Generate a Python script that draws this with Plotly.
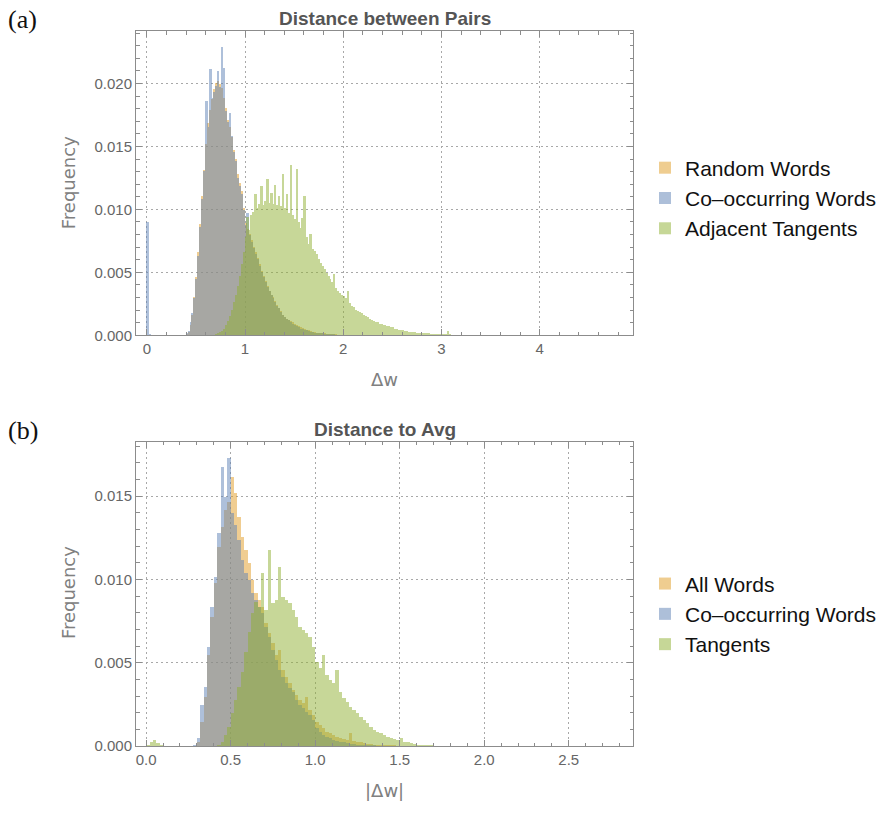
import plotly.graph_objects as go

# ---------------- Panel (a): Distance between Pairs ----------------
BIN_W_A = 0.02
RANDOM_START_A = 0.40
random_words_a = [
    0.00005, 0.0002, 0.0008, 0.0016, 0.0030, 0.0046, 0.0066, 0.0088, 0.0110, 0.0131,
    0.0152, 0.0168, 0.0179, 0.0187, 0.0195, 0.0200, 0.0202, 0.0199, 0.0196, 0.0188,
    0.0180, 0.0171, 0.0165, 0.0157, 0.0147, 0.0140, 0.0128, 0.0121, 0.0114, 0.0101,
    0.0089, 0.0084, 0.0080, 0.0075, 0.0070, 0.0066, 0.0061, 0.0056, 0.0051, 0.0047,
    0.0043, 0.0039, 0.0035, 0.0032, 0.0030, 0.0027, 0.0024, 0.0021, 0.0019, 0.0016,
    0.0014, 0.0013, 0.0012, 0.0011, 0.0010, 0.0009, 0.0008, 0.0007, 0.0006, 0.00055,
    0.0005, 0.0004, 0.00035, 0.0003, 0.00025, 0.0002, 0.00018, 0.00015, 0.00012, 0.0001,
    0.00008, 0.00006, 0.00005, 0.00004, 0.00003, 0.00002, 0.00001,
]

COOC_START_A = 0.00
cooccurring_a = [
    0.0090, 0.00005, 0, 0, 0, 0, 0, 0, 0, 0,
    0, 0, 0, 0, 0, 0, 0, 0, 0, 0,
    0.0001, 0.0003, 0.0010, 0.0017, 0.0029, 0.0044, 0.0063, 0.0086, 0.0108, 0.0130,
    0.0186, 0.0165, 0.0211, 0.0188, 0.0193, 0.0198, 0.0210, 0.0197, 0.0229, 0.0212,
    0.0178, 0.0169, 0.0176, 0.0158, 0.0145, 0.0138, 0.0125, 0.0118, 0.0112, 0.0099,
    0.0087, 0.0097, 0.0079, 0.0074, 0.0069, 0.0064, 0.0060, 0.0055, 0.0050, 0.0046,
    0.0042, 0.0038, 0.0035, 0.0032, 0.0029, 0.0026, 0.0023, 0.0021, 0.0018, 0.0016,
    0.0014, 0.0013, 0.0012, 0.0010, 0.0009, 0.0008, 0.0007, 0.0006, 0.0005, 0.0005,
    0.0004, 0.00035, 0.0003, 0.00025, 0.0002, 0.00018, 0.00015, 0.00012, 0.0001, 0.00008,
    0.00006, 0.00005, 0.00004, 0.00003, 0.00002, 0.00001,
]

TANG_START_A = 0.70
adjacent_tangents_a = [
    0.00005, 0.0001, 0.0002, 0.0003, 0.0005, 0.0008, 0.0011, 0.0015, 0.0020, 0.0026,
    0.0032, 0.0039, 0.0047, 0.0056, 0.0066, 0.0078, 0.0094, 0.0083, 0.0095, 0.0098,
    0.0112, 0.0101, 0.0104, 0.0118, 0.0103, 0.0106, 0.0124, 0.0105, 0.0113, 0.0104,
    0.0119, 0.0103, 0.0110, 0.0102, 0.0128, 0.0101, 0.0112, 0.0097, 0.0135, 0.0095,
    0.0092, 0.0132, 0.0090, 0.0085, 0.0093, 0.0110, 0.0078, 0.0072, 0.0080, 0.0068,
    0.0067, 0.0064, 0.0060, 0.0057, 0.0055, 0.0052, 0.0049, 0.0047, 0.0044, 0.0042,
    0.0048, 0.0037, 0.0035, 0.0033, 0.0032, 0.0031, 0.0029, 0.0035, 0.0025, 0.0023,
    0.0022, 0.0020, 0.0019, 0.0018, 0.0017, 0.0016, 0.0015, 0.0014, 0.0013, 0.0012,
    0.0011, 0.0010, 0.0010, 0.0009, 0.0009, 0.0008, 0.0008, 0.0007, 0.0007, 0.0006,
    0.0006, 0.0005, 0.0005, 0.0004, 0.0004, 0.00035, 0.0003, 0.0003, 0.00025, 0.00025,
    0.0002, 0.0002, 0.00015, 0.00015, 0.00015, 0.0001, 0.0001, 0.0001, 0.00008, 0.00006,
    0.00005, 0.00004, 0.00003, 0.00003, 0.00002, 0.00002, 0.00001, 0.00001, 0.0003, 0.00001,
]

# ---------------- Panel (b): Distance to Avg ----------------
BIN_W_B = 0.02
ALL_START_B = 0.28
all_words_b = [
    0.00003, 0.0003, 0.0015, 0.0030, 0.0055, 0.0078, 0.0098, 0.0120, 0.0132, 0.0142,
    0.0147, 0.0162, 0.0152, 0.0138, 0.0126, 0.0118, 0.0110, 0.0100, 0.0092, 0.0088,
    0.0084, 0.0074, 0.0068, 0.0062, 0.0055, 0.0058, 0.0046, 0.0042, 0.0038, 0.0034,
    0.0031, 0.0028, 0.0026, 0.0030, 0.0022, 0.0019, 0.0015, 0.0013, 0.0011, 0.0009,
    0.0008, 0.0007, 0.0006, 0.0005, 0.00045, 0.0004, 0.0008, 0.00035, 0.0003, 0.00025,
    0.0002, 0.00018, 0.00015, 0.00012, 0.0001, 0.00009, 0.00008, 0.00006, 0.00005, 0.00004,
    0.00003, 0.00003, 0.00002, 0.00002, 0.00001,
]

COOC_START_B = 0.28
cooccurring_b = [
    0.00005, 0.0005, 0.0025, 0.0036, 0.0060, 0.0084, 0.0102, 0.0128, 0.0168, 0.0150,
    0.0173, 0.0140, 0.0133, 0.0124, 0.0112, 0.0104, 0.0100, 0.0092, 0.0088, 0.0084,
    0.0080, 0.0072, 0.0066, 0.0058, 0.0052, 0.0046, 0.0042, 0.0038, 0.0035, 0.0033,
    0.0028, 0.0025, 0.0023, 0.0021, 0.0019, 0.0016, 0.0011, 0.0009, 0.0007, 0.0006,
    0.0005, 0.0004, 0.00035, 0.0003, 0.00025, 0.0002, 0.00017, 0.00014, 0.00012, 0.0001,
    0.00008, 0.00006, 0.00005, 0.00004, 0.00003, 0.00002, 0.00002, 0.00001,
]

TANG_START_B = 0.00
tangents_b = [
    0.0001, 0.0003, 0.0004, 0.0002, 0.00005, 0, 0, 0, 0, 0,
    0, 0, 0, 0, 0, 0, 0, 0, 0, 0,
    0, 0.0001, 0.0003, 0.0007, 0.0012, 0.0020, 0.0028, 0.0036, 0.0045, 0.0057,
    0.0069, 0.0080, 0.0087, 0.0084, 0.0104, 0.0082, 0.0118, 0.0086, 0.0088, 0.0108,
    0.0090, 0.0088, 0.0086, 0.0082, 0.0078, 0.0072, 0.0070, 0.0068, 0.0066, 0.0060,
    0.0051, 0.0047, 0.0055, 0.0043, 0.0040, 0.0038, 0.0046, 0.0033, 0.0029, 0.0027,
    0.0024, 0.0022, 0.0020, 0.0018, 0.0016, 0.0014, 0.0012, 0.0010, 0.0009, 0.0008,
    0.0007, 0.0006, 0.0005, 0.00045, 0.0004, 0.0005, 0.0003, 0.00025, 0.0002, 0.00015,
    0.00012, 0.0001, 0.00008, 0.00006, 0.00005, 0.00003, 0.00002, 0.00001,
]

LEGEND_A = ["Random Words", "Co\u2013occurring Words", "Adjacent Tangents"]
LEGEND_B = ["All Words", "Co\u2013occurring Words", "Tangents"]

ORANGE = "#E19C24"
BLUE = "#5E81B5"
GREEN = "#8FB032"
OPA = 0.5

W, H = 883, 813
L_PX, R_PX = 136, 633
A_TOP, A_BOT = 31.7, 338.6
B_TOP, B_BOT = 446.0, 753.6


def px_x(p):
    return p / W


def px_y(p):
    return 1 - p / H


fig = go.Figure()


def add_hist(values, start, width, color, name, xa, ya, legend):
    fig.add_trace(go.Bar(
        x0=start + width / 2, dx=width, y=values, name=name,
        marker=dict(color=color, line=dict(width=0)),
        opacity=OPA, xaxis=xa, yaxis=ya, legend=legend,
        hoverinfo="skip",
    ))


add_hist(random_words_a, RANDOM_START_A, BIN_W_A, ORANGE, LEGEND_A[0], "x", "y", "legend")
add_hist(cooccurring_a, COOC_START_A, BIN_W_A, BLUE, LEGEND_A[1], "x", "y", "legend")
add_hist(adjacent_tangents_a, TANG_START_A, BIN_W_A, GREEN, LEGEND_A[2], "x", "y", "legend")
add_hist(all_words_b, ALL_START_B, BIN_W_B, ORANGE, LEGEND_B[0], "x2", "y2", "legend2")
add_hist(cooccurring_b, COOC_START_B, BIN_W_B, BLUE, LEGEND_B[1], "x2", "y2", "legend2")
add_hist(tangents_b, TANG_START_B, BIN_W_B, GREEN, LEGEND_B[2], "x2", "y2", "legend2")

FRAME = "#8c8c8c"
TICKFONT = dict(family="Liberation Sans, Arial, sans-serif", size=15, color="#666666")

common_axis = dict(
    showline=True, linecolor=FRAME, linewidth=1, mirror="ticks",
    ticks="inside", ticklen=6, tickcolor=FRAME, tickwidth=1,
    showgrid=True, gridcolor="#a8a8a8", griddash="2px,3px", gridwidth=1,
    zeroline=False, tickfont=TICKFONT, fixedrange=True,
)

LEG_FONT = dict(family="Liberation Sans, Arial, sans-serif", size=21, color="#111111")

fig.update_layout(
    width=W, height=H, autosize=False,
    margin=dict(l=0, r=0, t=0, b=0),
    paper_bgcolor="white", plot_bgcolor="white",
    barmode="overlay", bargap=0,
    showlegend=True,
    xaxis=dict(common_axis, domain=[px_x(L_PX), px_x(R_PX)], anchor="y",
               range=[-0.11, 4.95], tickvals=[0, 1, 2, 3, 4], tickformat="d",
               minor=dict(dtick=0.2, tick0=0, ticklen=3.5, tickcolor=FRAME, ticks="inside", showgrid=False)),
    yaxis=dict(common_axis, domain=[px_y(A_BOT), px_y(A_TOP)], anchor="x",
               range=[0, 0.02414], tickvals=[0, 0.005, 0.010, 0.015, 0.020], tickformat=".3f",
               minor=dict(dtick=0.001, tick0=0, ticklen=3.5, tickcolor=FRAME, ticks="inside", showgrid=False)),
    xaxis2=dict(common_axis, domain=[px_x(L_PX), px_x(R_PX)], anchor="y2",
                range=[-0.06, 2.88], tickvals=[0, 0.5, 1.0, 1.5, 2.0, 2.5], tickformat=".1f",
                minor=dict(dtick=0.1, tick0=0, ticklen=3.5, tickcolor=FRAME, ticks="inside", showgrid=False)),
    yaxis2=dict(common_axis, domain=[px_y(B_BOT), px_y(B_TOP)], anchor="x2",
                range=[0, 0.01827], tickvals=[0, 0.005, 0.010, 0.015], tickformat=".3f",
                minor=dict(dtick=0.001, tick0=0, ticklen=3.5, tickcolor=FRAME, ticks="inside", showgrid=False)),
    legend=dict(x=px_x(645), y=px_y(149), xanchor="left", yanchor="top",
                font=LEG_FONT, bgcolor="rgba(0,0,0,0)", traceorder="normal"),
    legend2=dict(x=px_x(645), y=px_y(569), xanchor="left", yanchor="top",
                 font=LEG_FONT, bgcolor="rgba(0,0,0,0)", traceorder="normal"),
)

TITLE_FONT = dict(family="Liberation Sans, Arial, sans-serif", size=19, color="#555555")
AXT_FONT = dict(family="DejaVu Sans, sans-serif", size=18, color="#808080")
LBL_FONT = dict(family="Liberation Serif, serif", size=26, color="#111111")

annotations = [
    dict(text="(a)", x=px_x(6), y=px_y(20), xanchor="left", yanchor="middle", font=LBL_FONT),
    dict(text="(b)", x=px_x(6), y=px_y(435), xanchor="left", yanchor="middle", font=LBL_FONT),
    dict(text="<b>Distance between Pairs</b>", x=px_x((L_PX + R_PX) / 2), y=px_y(19),
         xanchor="center", yanchor="middle", font=TITLE_FONT),
    dict(text="<b>Distance to Avg</b>", x=px_x((L_PX + R_PX) / 2), y=px_y(434),
         xanchor="center", yanchor="middle", font=TITLE_FONT),
    dict(text="Frequency", x=px_x(68), y=px_y(185), textangle=-90,
         xanchor="center", yanchor="middle", font=AXT_FONT),
    dict(text="Frequency", x=px_x(68), y=px_y(599), textangle=-90,
         xanchor="center", yanchor="middle", font=AXT_FONT),
    dict(text="\u0394w", x=px_x((L_PX + R_PX) / 2), y=px_y(383),
         xanchor="center", yanchor="middle", font=AXT_FONT),
    dict(text="|\u0394w|", x=px_x((L_PX + R_PX) / 2), y=px_y(798),
         xanchor="center", yanchor="middle", font=AXT_FONT),
]
for a in annotations:
    a.update(xref="paper", yref="paper", showarrow=False)
fig.update_layout(annotations=annotations)

fig.write_html("out.html")
